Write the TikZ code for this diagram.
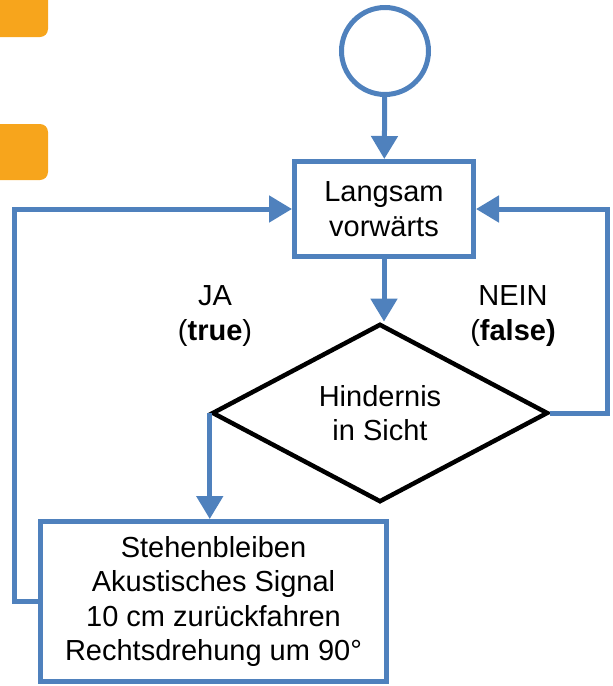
\documentclass[tikz,border=0pt]{standalone}
\usepackage{fontspec}
\setmainfont{Liberation Sans}
\usetikzlibrary{shapes.geometric,arrows.meta,positioning}
\definecolor{flowblue}{HTML}{4F81BD}
\definecolor{taborange}{HTML}{F7A51C}
\tikzset{
  flowtext/.style={font=\fontsize{29pt}{34.5pt}\selectfont,align=center,text=black},
  actbox/.style={flowtext,draw=flowblue,line width=5pt,rectangle,inner sep=0pt},
  flowline/.style={draw=flowblue,line width=5pt},
  flowarrow/.style={flowline,-{Triangle[width=26pt,length=23pt]}}
}
\begin{document}
\begin{tikzpicture}[x=1pt,y=-1pt]
\clip (0,0) rectangle (613,686);
% tabs on the left edge
\fill[taborange,rounded corners=8pt] (-20,-20) rectangle (48,37);
\fill[taborange,rounded corners=8pt] (-20,124) rectangle (48,180);
% nodes
\node[circle,draw=flowblue,line width=5pt,minimum size=87pt,inner sep=0pt] (start) at (385,51) {};
\node[actbox,minimum width=179pt,minimum height=95pt] (move) at (384,209) {Langsam\\vorwärts};
\node[diamond,draw=black,line width=4.5pt,flowtext,minimum width=336pt,minimum height=172pt,inner sep=0pt] (check) at (380,413) {Hindernis\\in Sicht};
\node[actbox,minimum width=346pt,minimum height=160pt] (avoid) at (213.5,601.5) {Stehenbleiben\\Akustisches Signal\\10 cm zurückfahren\\Rechtsdrehung um 90°};
% labels
\node[flowtext] (yes) at (215,316) {JA\\(\textbf{true})};
\node[flowtext] (no) at (513,316) {NEIN\\(\textbf{false)}};
% connectors
\draw[flowarrow] (start) -- (move);
\draw[flowarrow] (move.south) -- (move.south |- check.north);
\draw[flowarrow] (check.east) -- ++(57,0) |- (move.east);
\draw[flowarrow] (check.west) -- (check.west |- avoid.north);
\draw[flowarrow] (avoid.west) -- ++(-24,0) |- (move.west);
\end{tikzpicture}
\end{document}
